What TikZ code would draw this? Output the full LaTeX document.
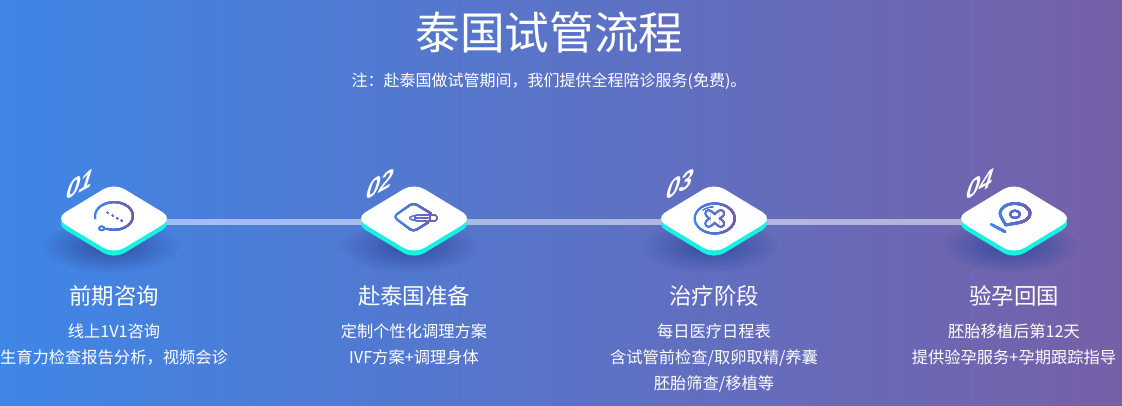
\documentclass[tikz,border=0pt]{standalone}
\usepackage{fontspec}
\setmainfont{Noto Sans CJK SC}
\newfontfamily\numfont{Liberation Sans}
\usetikzlibrary{shapes.geometric, fadings}
\definecolor{bgleft}{HTML}{3F86E6}
\definecolor{bgright}{HTML}{7660A8}
\definecolor{tealedge}{HTML}{19F0E2}
\definecolor{shadowblue}{HTML}{2F4A9C}
\definecolor{iconblue}{HTML}{3A88E8}
\definecolor{iconpurple}{HTML}{7E55A5}
\tikzfading[name=softshadow, inner color=transparent!10, outer color=transparent!100]
\tikzset{
    stepbox/.style={shape=diamond, aspect=1.657, minimum width=88.5pt, minimum height=53.4pt,
        inner sep=0pt, outer sep=0pt, fill=white, rounded corners=9pt},
    stepbase/.style={stepbox, fill=tealedge},
    stepline/.style={line width=4.5pt, white, opacity=0.5},
    steptitle/.style={text=white, font=\fontsize{16.8}{20}\selectfont},
    stepnote/.style={text=white, align=center, anchor=north, font=\fontsize{12.2}{19.5}\selectfont},
    stepnum/.style={text=white, yslant=0.55, xslant=0.18, font=\numfont\bfseries\itshape\fontsize{18}{20}\selectfont},
    iconline/.style={line width=1.5pt, line cap=round, line join=round}
}
\newcommand{\iconconsult}{
    \begin{scope}[shift={(0,2.5)}, yscale=0.73]
        \draw[iconline] (190:19) arc[start angle=190, end angle=-112, radius=19];
    \end{scope}
    \draw[iconline, line width=1.2pt] (-12.3,-9.8) ellipse (2.6 and 2);
    \draw[iconline, line width=1.2pt] (-9.8,-10) -- (-7.3,-10.5);
    \foreach \px/\py in {-6.3/5.8, -1.3/2.8, 3.3/0.2, 7.7/-2.2}{
        \fill (\px,\py) circle (1.2);
    }
}
\newcommand{\iconprepare}{
    \draw[iconline, rounded corners=3pt] (16.7,5.2) -- (-0.7,15.8) -- (-20.7,1.8) -- (-0.7,-13.2) -- (14.3,-3.8);
    \draw[line width=1pt, line join=round, rounded corners=1.5pt, fill=white] (-5.5,0.5) -- (1,3.2) -- (22.7,3.2) -- (22.7,-2.2) -- (1,-2.2) -- cycle;
    \draw[line width=1pt] (16,3.2) -- (16,-2.2);
    \draw[line width=1pt] (1,3.2) -- (1,-2.2);
    \draw[line width=1pt] (1,0.5) -- (16,0.5);
}
\newcommand{\icontreat}{
    \draw[iconline] (0.7,0) ellipse (20 and 15);
    \draw[line width=0.7pt, line cap=round] (-11,8.5) .. controls (-8,10.5) and (-4,11.5) .. (-1,11.7);
    \draw[line width=6.4pt, line cap=round] (-5.3,-5) -- (6.7,5);
    \draw[line width=6.4pt, line cap=round] (-5.3,5) -- (6.7,-5);
    \draw[white, line width=3.2pt, line cap=round] (-5.3,-5) -- (6.7,5);
    \draw[white, line width=3.2pt, line cap=round] (-5.3,5) -- (6.7,-5);
}
\newcommand{\iconreturn}{
    \begin{scope}[shift={(1,5.2)}, yscale=0.65]
        \draw[iconline, line width=2pt] (-9.3,-18) -- (200.7:15)
            arc[start angle=200.7, end angle=-75.3, radius=15] -- cycle;
    \end{scope}
    \draw[iconline] (1,4.2) ellipse (5 and 3.7);
    \draw[iconline, line width=2pt] (-23,-5.8) -- (-9,-13.2);
}
\newcommand{\gradicon}[1]{
    \foreach \s in {0,...,11}{
        \pgfmathsetmacro{\pct}{100-\s*100/11}
        \begin{scope}[color=iconblue!\pct!iconpurple]
            \clip (-26+\s*4.5,-26) rectangle (30,26);
            #1
        \end{scope}
    }
}
\begin{document}
\begin{tikzpicture}[x=0.75pt, y=0.75pt]
    \useasboundingbox (0,0) rectangle (1122,406);
    \shade[left color=bgleft, right color=bgright] (0,0) rectangle (1122,406);
    \node[text=white, font=\fontsize{33.5}{38}\selectfont] (title) at (549.5,373.5) {泰国试管流程};
    \node[text=white, font=\fontsize{12}{15}\selectfont] (subtitle) at (549,325) {注：赴泰国做试管期间，我们提供全程陪诊服务(免费)。};
    \foreach \x/\i in {114/1, 414/2, 714/3, 1014/4}{
        \fill[shadowblue, path fading=softshadow, fit fading=true] (\x-4,160) ellipse (70 and 27);
        \node[stepbase] (base\i) at (\x,182.5) {};
    }
    \foreach \a/\b in {1/2, 2/3, 3/4}{
        \draw[stepline] ([yshift=1.1pt]base\a.center) -- ([yshift=1.1pt]base\b.center);
    }
    \foreach \x/\i/\num in {114/1/01, 414/2/02, 714/3/03, 1014/4/04}{
        \node[stepbase] (edge\i) at (\x,182.5) {};
        \node[stepbox] (step\i) at (\x,187.5) {};
        \node[stepnum] (num\i) at (\x-34,221.5) {\num};
    }
    \foreach \i/\icon in {1/\iconconsult, 2/\iconprepare, 3/\icontreat, 4/\iconreturn}{
        \begin{scope}[shift={(step\i.center)}]
            \gradicon{\icon}
        \end{scope}
    }
    \foreach \x/\i/\head/\note in {
        114/1/前期咨询/{线上1V1咨询\\生育力检查报告分析，视频会诊},
        414/2/赴泰国准备/{定制个性化调理方案\\IVF方案+调理身体},
        714/3/治疗阶段/{每日医疗日程表\\含试管前检查/取卵取精/养囊\\胚胎筛查/移植等},
        1014/4/验孕回国/{胚胎移植后第12天\\提供验孕服务+孕期跟踪指导}}{
        \node[steptitle] (head\i) at (\x,110) {\head};
        \node[stepnote] (note\i) at (\x,87) {\note};
    }
\end{tikzpicture}
\end{document}
